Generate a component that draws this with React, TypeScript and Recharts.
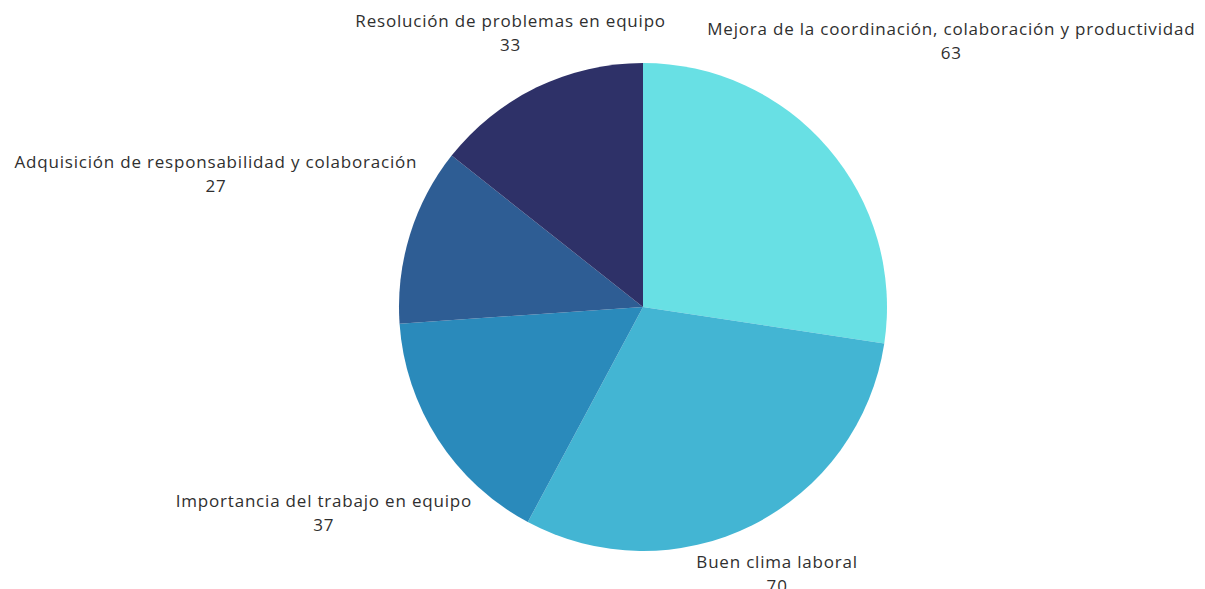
import { PieChart, Pie, Cell } from 'recharts';

const categories = [
  'Mejora de la coordinación, colaboración y productividad',
  'Buen clima laboral',
  'Importancia del trabajo en equipo',
  'Adquisición de responsabilidad y colaboración',
  'Resolución de problemas en equipo',
];
const values = [63, 70, 37, 27, 33];
const colors = ['#68e0e4', '#43b5d3', '#2a8abb', '#2e5d94', '#2e3168'];

const data = categories.map((name, i) => ({ name, value: values[i] }));

const FONT = '17px "Open Sans"';
const SPACING = 0.8;
const RADIAN = Math.PI / 180;
const LINE_GAP = 24;

let ctx: CanvasRenderingContext2D | null = null;
function textWidth(s: string) {
  if (!ctx) ctx = document.createElement('canvas').getContext('2d');
  if (!ctx) return s.length * 9;
  ctx.font = FONT;
  return ctx.measureText(s).width + s.length * SPACING;
}

// push the two-line label box out along the slice's mid angle until it clears the pie
function renderLabel(props: any) {
  const { cx, cy, outerRadius, midAngle, name, value } = props;
  const w = Math.max(textWidth(name), textWidth(String(value)));
  const h = 45;
  const ux = Math.cos(-midAngle * RADIAN);
  const uy = Math.sin(-midAngle * RADIAN);
  const target = outerRadius + 7;
  let lo = 0;
  let hi = 2000;
  for (let k = 0; k < 40; k++) {
    const t = (lo + hi) / 2;
    const dx = Math.max(Math.abs(t * ux) - w / 2, 0);
    const dy = Math.max(Math.abs(t * uy) - h / 2, 0);
    if (Math.sqrt(dx * dx + dy * dy) < target) lo = t;
    else hi = t;
  }
  const bx = cx + hi * ux;
  const by = cy + hi * uy;
  const top = by - h / 2;
  const style = { font: FONT, letterSpacing: SPACING };
  return (
    <g>
      <text x={bx} y={top + 16} textAnchor="middle" fill="#2f2f2f" style={style}>
        {name}
      </text>
      <text x={bx} y={top + 16 + LINE_GAP} textAnchor="middle" fill="#2f2f2f" style={style}>
        {value}
      </text>
    </g>
  );
}

export default function App() {
  return (
    <div style={{ position: 'fixed', left: 0, top: 0, width: 1205, height: 589, background: '#fff' }}>
      <PieChart width={1205} height={589} margin={{ top: 0, right: 0, bottom: 0, left: 0 }}>
        <Pie
          data={data}
          dataKey="value"
          nameKey="name"
          cx={643}
          cy={307}
          outerRadius={244}
          startAngle={90}
          endAngle={-270}
          stroke="none"
          label={renderLabel}
          labelLine={false}
          isAnimationActive={false}
        >
          {data.map((d, i) => (
            <Cell key={d.name} fill={colors[i]} />
          ))}
        </Pie>
      </PieChart>
    </div>
  );
}
